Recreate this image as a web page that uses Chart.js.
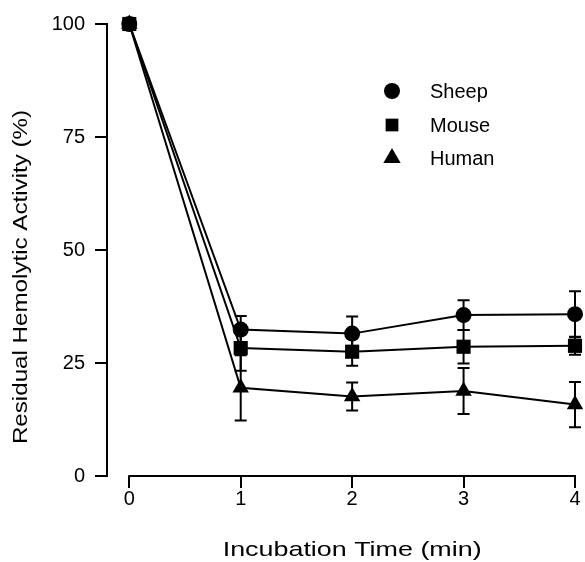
<!DOCTYPE html>
<html>
<head>
<meta charset="utf-8">
<script src="https://cdn.jsdelivr.net/npm/chart.js@4/dist/chart.umd.min.js"></script>
<style>
    body { margin: 0; background: #fff; }
</style>
</head>
<body>
<canvas id="hemo-chart" width="585" height="562"></canvas>
<script>
const timeMin = [0, 1, 2, 3, 4];
const xTicks = [0, 1, 2, 3, 4];
const yTicks = [0, 25, 50, 75, 100];

const seriesNames = ['Sheep', 'Mouse', 'Human'];
const seriesStyles = ['circle', 'rect', 'triangle'];
const seriesRadius = [8, 10, 9.5];

const sheepValues = [100, 32.4, 31.5, 35.6, 35.8];
const sheepErrors = [0, 3.0, 3.8, 3.3, 5.1];
const mouseValues = [100, 28.3, 27.5, 28.6, 28.8];
const mouseErrors = [0, 5.0, 3.1, 3.7, 2.0];
const humanValues = [100, 19.5, 17.6, 18.8, 15.8];
const humanErrors = [0, 7.2, 3.1, 5.1, 5.0];

const allValues = [sheepValues, mouseValues, humanValues];
const allErrors = [sheepErrors, mouseErrors, humanErrors];

const FONT = "'Liberation Sans', Arial, Helvetica, sans-serif";

function makeDataset(idx) {
    return {
        label: seriesNames[idx],
        data: timeMin.map((t, i) => ({ x: t, y: allValues[idx][i] })),
        errors: allErrors[idx],
        borderColor: '#000',
        backgroundColor: '#000',
        borderWidth: 2,
        pointStyle: seriesStyles[idx],
        pointRadius: seriesRadius[idx],
        pointBorderWidth: 0,
        pointBackgroundColor: '#000',
        tension: 0,
        clip: false
    };
}


const errorBarPlugin = {
    id: 'errorBars',
    beforeDatasetsDraw(chart) {
        const ctx = chart.ctx;
        const xs = chart.scales.x;
        const ys = chart.scales.y;
        ctx.save();
        ctx.strokeStyle = '#000';
        ctx.lineWidth = 2;
        chart.data.datasets.forEach(ds => {
            ds.data.forEach((p, i) => {
                const err = ds.errors[i];
                if (!err) return;
                const px = xs.getPixelForValue(p.x);
                const top = ys.getPixelForValue(p.y + err);
                const bot = ys.getPixelForValue(p.y - err);
                ctx.beginPath();
                ctx.moveTo(px, top);
                ctx.lineTo(px, bot);
                ctx.moveTo(px - 6, top);
                ctx.lineTo(px + 6, top);
                ctx.moveTo(px - 6, bot);
                ctx.lineTo(px + 6, bot);
                ctx.stroke();
            });
        });
        ctx.restore();
    }
};


// stretched text, the original titles are wider than the tick labels
function drawWideText(ctx, text, x, y, angle, stretch) {
    ctx.save();
    ctx.translate(x, y);
    ctx.rotate(angle);
    ctx.scale(stretch, 1);
    ctx.fillText(text, 0, 0);
    ctx.restore();
}


const axisPlugin = {
    id: 'detachedAxis',
    afterDraw(chart) {
        const ctx = chart.ctx;
        const xs = chart.scales.x;
        const area = chart.chartArea;
        const x0 = xs.getPixelForValue(xTicks[0]);
        const x1 = xs.getPixelForValue(xTicks[xTicks.length - 1]);
        ctx.save();
        ctx.strokeStyle = '#000';
        ctx.lineWidth = 2;
        ctx.beginPath();
        ctx.moveTo(x0 - 1, area.bottom);
        ctx.lineTo(x1 + 1, area.bottom);
        ctx.stroke();

        ctx.fillStyle = '#000';
        ctx.font = '21px ' + FONT;
        ctx.textAlign = 'center';
        ctx.textBaseline = 'middle';
        drawWideText(ctx, 'Incubation Time (min)', (x0 + x1) / 2, 550, 0, 1.28);
        drawWideText(ctx, 'Residual Hemolytic Activity (%)', 21, 277, -Math.PI / 2, 1.15);

        // legend
        ctx.font = '20px ' + FONT;
        const lx = 392, tx = 430;
        const rows = [92, 126, 159];
        seriesNames.forEach((name, i) => {
            const r = i === 0 ? 8 : (i === 1 ? 9 : 10);
            if (Chart.helpers && Chart.helpers.drawPoint) {
                Chart.helpers.drawPoint(ctx, { pointStyle: seriesStyles[i], radius: r, rotation: 0, borderWidth: 0 }, lx, rows[i] - 1);
            }
            ctx.textAlign = 'left';
            ctx.fillText(name, tx, rows[i]);
        });
        ctx.restore();
    }
};

new Chart(document.getElementById('hemo-chart'), {
    type: 'line',
    data: {
        datasets: [makeDataset(0), makeDataset(1), makeDataset(2)]
    },
    options: {
        responsive: false,
        animation: false,
        layout: {
            padding: { top: 24, right: 7, left: 0, bottom: 0 }
        },
        plugins: {
            legend: { display: false },
            tooltip: { enabled: false }
        },
        scales: {
            x: {
                type: 'linear',
                min: -0.2,
                max: 4,
                afterBuildTicks: scale => {
                    scale.ticks = xTicks.map(v => ({ value: v }));
                },
                afterFit: scale => { scale.height = 86; },
                ticks: {
                    color: '#000',
                    font: { family: FONT, size: 20 },
                    padding: -1,
                    maxRotation: 0
                },
                grid: {
                    drawOnChartArea: false,
                    drawTicks: true,
                    tickLength: 12,
                    color: '#000',
                    lineWidth: 2
                },
                border: { display: false }
            },
            y: {
                min: 0,
                max: 100,
                afterBuildTicks: scale => {
                    scale.ticks = yTicks.map(v => ({ value: v }));
                },
                afterFit: scale => { scale.width = 107; },
                ticks: {
                    color: '#000',
                    font: { family: FONT, size: 20 },
                    padding: 10
                },
                grid: {
                    drawOnChartArea: false,
                    drawTicks: true,
                    tickLength: 12,
                    color: '#000',
                    lineWidth: 2
                },
                border: { display: true, color: '#000', width: 2 }
            }
        }
    },
    plugins: [errorBarPlugin, axisPlugin]
});
</script>
</body>
</html>
